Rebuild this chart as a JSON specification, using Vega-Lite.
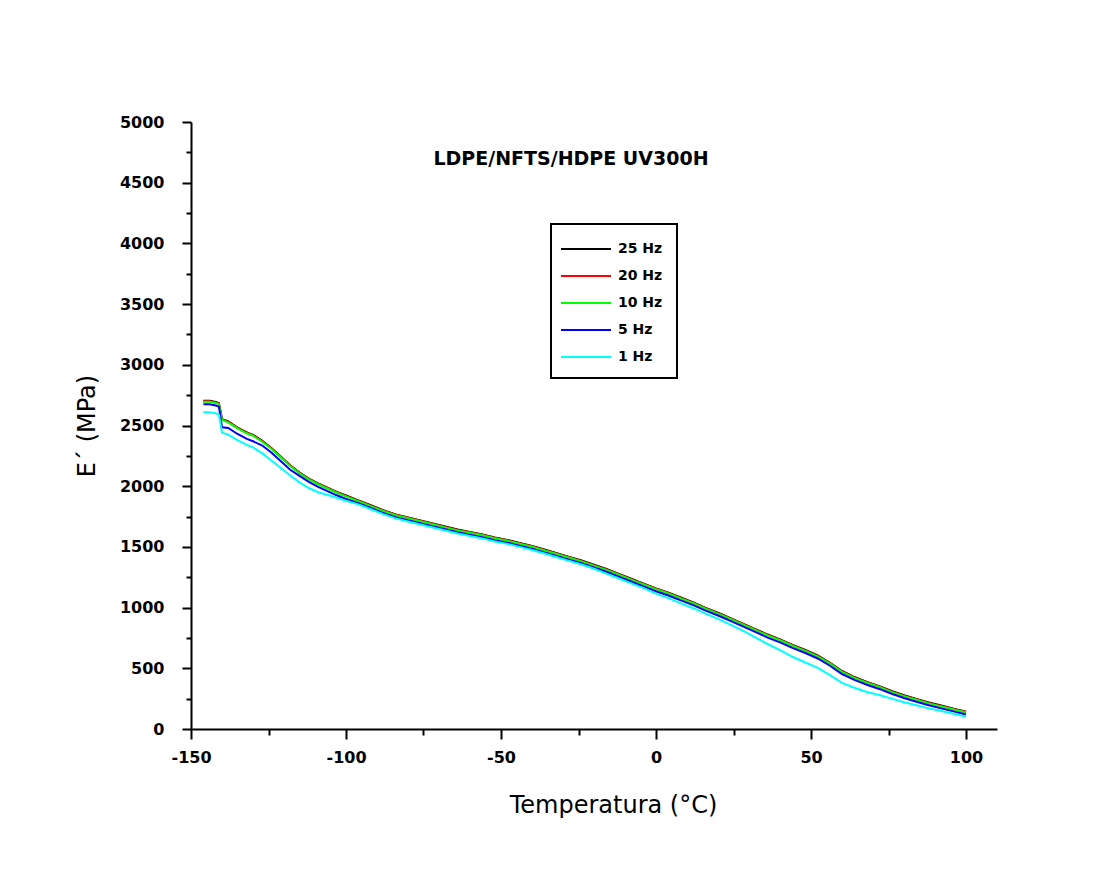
{
"$schema": "https://vega.github.io/schema/vega-lite/v6.json",
"width": 806, "height": 607,
"autosize": {"type": "none"},
"padding": {"left": 191, "top": 122, "right": 100, "bottom": 154},
"background": "white",
"title": {"text": "LDPE/NFTS/HDPE UV300H", "font": "DejaVu Sans", "fontSize": 19, "fontWeight": "bold", "color": "black", "anchor": "middle", "frame": "group", "offset": 0, "baseline": "top", "dy": 55, "dx": -23},
"data": {"values": [
{"T":-146,"E":2703,"freq":"25 Hz"},{"T":-144,"E":2703,"freq":"25 Hz"},{"T":-142,"E":2693,"freq":"25 Hz"},{"T":-141,"E":2683,"freq":"25 Hz"},{"T":-140,"E":2553,"freq":"25 Hz"},{"T":-138,"E":2533,"freq":"25 Hz"},{"T":-135,"E":2483,"freq":"25 Hz"},{"T":-132,"E":2443,"freq":"25 Hz"},{"T":-130,"E":2423,"freq":"25 Hz"},{"T":-127,"E":2373,"freq":"25 Hz"},{"T":-124,"E":2313,"freq":"25 Hz"},{"T":-121,"E":2243,"freq":"25 Hz"},{"T":-118,"E":2173,"freq":"25 Hz"},{"T":-115,"E":2113,"freq":"25 Hz"},{"T":-112,"E":2063,"freq":"25 Hz"},{"T":-109,"E":2023,"freq":"25 Hz"},{"T":-106,"E":1988,"freq":"25 Hz"},{"T":-103,"E":1953,"freq":"25 Hz"},{"T":-100,"E":1923,"freq":"25 Hz"},{"T":-96,"E":1883,"freq":"25 Hz"},{"T":-92,"E":1843,"freq":"25 Hz"},{"T":-88,"E":1803,"freq":"25 Hz"},{"T":-84,"E":1768,"freq":"25 Hz"},{"T":-80,"E":1743,"freq":"25 Hz"},{"T":-76,"E":1718,"freq":"25 Hz"},{"T":-72,"E":1693,"freq":"25 Hz"},{"T":-68,"E":1668,"freq":"25 Hz"},{"T":-64,"E":1643,"freq":"25 Hz"},{"T":-60,"E":1623,"freq":"25 Hz"},{"T":-56,"E":1603,"freq":"25 Hz"},{"T":-52,"E":1578,"freq":"25 Hz"},{"T":-48,"E":1558,"freq":"25 Hz"},{"T":-44,"E":1533,"freq":"25 Hz"},{"T":-40,"E":1508,"freq":"25 Hz"},{"T":-36,"E":1478,"freq":"25 Hz"},{"T":-32,"E":1448,"freq":"25 Hz"},{"T":-28,"E":1418,"freq":"25 Hz"},{"T":-24,"E":1388,"freq":"25 Hz"},{"T":-20,"E":1353,"freq":"25 Hz"},{"T":-16,"E":1318,"freq":"25 Hz"},{"T":-12,"E":1278,"freq":"25 Hz"},{"T":-8,"E":1238,"freq":"25 Hz"},{"T":-4,"E":1198,"freq":"25 Hz"},{"T":0,"E":1158,"freq":"25 Hz"},{"T":4,"E":1123,"freq":"25 Hz"},{"T":8,"E":1083,"freq":"25 Hz"},{"T":12,"E":1043,"freq":"25 Hz"},{"T":16,"E":998,"freq":"25 Hz"},{"T":20,"E":958,"freq":"25 Hz"},{"T":24,"E":913,"freq":"25 Hz"},{"T":28,"E":868,"freq":"25 Hz"},{"T":32,"E":823,"freq":"25 Hz"},{"T":36,"E":778,"freq":"25 Hz"},{"T":40,"E":738,"freq":"25 Hz"},{"T":44,"E":693,"freq":"25 Hz"},{"T":48,"E":653,"freq":"25 Hz"},{"T":52,"E":608,"freq":"25 Hz"},{"T":56,"E":548,"freq":"25 Hz"},{"T":60,"E":478,"freq":"25 Hz"},{"T":64,"E":428,"freq":"25 Hz"},{"T":68,"E":388,"freq":"25 Hz"},{"T":72,"E":353,"freq":"25 Hz"},{"T":76,"E":313,"freq":"25 Hz"},{"T":80,"E":278,"freq":"25 Hz"},{"T":84,"E":248,"freq":"25 Hz"},{"T":88,"E":218,"freq":"25 Hz"},{"T":92,"E":193,"freq":"25 Hz"},{"T":96,"E":168,"freq":"25 Hz"},{"T":100,"E":143,"freq":"25 Hz"},
{"T":-146,"E":2700,"freq":"20 Hz"},{"T":-144,"E":2700,"freq":"20 Hz"},{"T":-142,"E":2690,"freq":"20 Hz"},{"T":-141,"E":2680,"freq":"20 Hz"},{"T":-140,"E":2550,"freq":"20 Hz"},{"T":-138,"E":2530,"freq":"20 Hz"},{"T":-135,"E":2480,"freq":"20 Hz"},{"T":-132,"E":2440,"freq":"20 Hz"},{"T":-130,"E":2420,"freq":"20 Hz"},{"T":-127,"E":2370,"freq":"20 Hz"},{"T":-124,"E":2310,"freq":"20 Hz"},{"T":-121,"E":2240,"freq":"20 Hz"},{"T":-118,"E":2170,"freq":"20 Hz"},{"T":-115,"E":2110,"freq":"20 Hz"},{"T":-112,"E":2060,"freq":"20 Hz"},{"T":-109,"E":2020,"freq":"20 Hz"},{"T":-106,"E":1985,"freq":"20 Hz"},{"T":-103,"E":1950,"freq":"20 Hz"},{"T":-100,"E":1920,"freq":"20 Hz"},{"T":-96,"E":1880,"freq":"20 Hz"},{"T":-92,"E":1840,"freq":"20 Hz"},{"T":-88,"E":1800,"freq":"20 Hz"},{"T":-84,"E":1765,"freq":"20 Hz"},{"T":-80,"E":1740,"freq":"20 Hz"},{"T":-76,"E":1715,"freq":"20 Hz"},{"T":-72,"E":1690,"freq":"20 Hz"},{"T":-68,"E":1665,"freq":"20 Hz"},{"T":-64,"E":1640,"freq":"20 Hz"},{"T":-60,"E":1620,"freq":"20 Hz"},{"T":-56,"E":1600,"freq":"20 Hz"},{"T":-52,"E":1575,"freq":"20 Hz"},{"T":-48,"E":1555,"freq":"20 Hz"},{"T":-44,"E":1530,"freq":"20 Hz"},{"T":-40,"E":1505,"freq":"20 Hz"},{"T":-36,"E":1475,"freq":"20 Hz"},{"T":-32,"E":1445,"freq":"20 Hz"},{"T":-28,"E":1415,"freq":"20 Hz"},{"T":-24,"E":1385,"freq":"20 Hz"},{"T":-20,"E":1350,"freq":"20 Hz"},{"T":-16,"E":1315,"freq":"20 Hz"},{"T":-12,"E":1275,"freq":"20 Hz"},{"T":-8,"E":1235,"freq":"20 Hz"},{"T":-4,"E":1195,"freq":"20 Hz"},{"T":0,"E":1155,"freq":"20 Hz"},{"T":4,"E":1120,"freq":"20 Hz"},{"T":8,"E":1080,"freq":"20 Hz"},{"T":12,"E":1040,"freq":"20 Hz"},{"T":16,"E":995,"freq":"20 Hz"},{"T":20,"E":955,"freq":"20 Hz"},{"T":24,"E":910,"freq":"20 Hz"},{"T":28,"E":865,"freq":"20 Hz"},{"T":32,"E":820,"freq":"20 Hz"},{"T":36,"E":775,"freq":"20 Hz"},{"T":40,"E":735,"freq":"20 Hz"},{"T":44,"E":690,"freq":"20 Hz"},{"T":48,"E":650,"freq":"20 Hz"},{"T":52,"E":605,"freq":"20 Hz"},{"T":56,"E":545,"freq":"20 Hz"},{"T":60,"E":475,"freq":"20 Hz"},{"T":64,"E":425,"freq":"20 Hz"},{"T":68,"E":385,"freq":"20 Hz"},{"T":72,"E":350,"freq":"20 Hz"},{"T":76,"E":310,"freq":"20 Hz"},{"T":80,"E":275,"freq":"20 Hz"},{"T":84,"E":245,"freq":"20 Hz"},{"T":88,"E":215,"freq":"20 Hz"},{"T":92,"E":190,"freq":"20 Hz"},{"T":96,"E":165,"freq":"20 Hz"},{"T":100,"E":140,"freq":"20 Hz"},
{"T":-146,"E":2696,"freq":"10 Hz"},{"T":-144,"E":2696,"freq":"10 Hz"},{"T":-142,"E":2686,"freq":"10 Hz"},{"T":-141,"E":2676,"freq":"10 Hz"},{"T":-140,"E":2546,"freq":"10 Hz"},{"T":-138,"E":2526,"freq":"10 Hz"},{"T":-135,"E":2476,"freq":"10 Hz"},{"T":-132,"E":2436,"freq":"10 Hz"},{"T":-130,"E":2416,"freq":"10 Hz"},{"T":-127,"E":2366,"freq":"10 Hz"},{"T":-124,"E":2306,"freq":"10 Hz"},{"T":-121,"E":2236,"freq":"10 Hz"},{"T":-118,"E":2166,"freq":"10 Hz"},{"T":-115,"E":2106,"freq":"10 Hz"},{"T":-112,"E":2056,"freq":"10 Hz"},{"T":-109,"E":2016,"freq":"10 Hz"},{"T":-106,"E":1981,"freq":"10 Hz"},{"T":-103,"E":1946,"freq":"10 Hz"},{"T":-100,"E":1916,"freq":"10 Hz"},{"T":-96,"E":1876,"freq":"10 Hz"},{"T":-92,"E":1836,"freq":"10 Hz"},{"T":-88,"E":1796,"freq":"10 Hz"},{"T":-84,"E":1761,"freq":"10 Hz"},{"T":-80,"E":1736,"freq":"10 Hz"},{"T":-76,"E":1711,"freq":"10 Hz"},{"T":-72,"E":1686,"freq":"10 Hz"},{"T":-68,"E":1661,"freq":"10 Hz"},{"T":-64,"E":1636,"freq":"10 Hz"},{"T":-60,"E":1616,"freq":"10 Hz"},{"T":-56,"E":1596,"freq":"10 Hz"},{"T":-52,"E":1571,"freq":"10 Hz"},{"T":-48,"E":1551,"freq":"10 Hz"},{"T":-44,"E":1526,"freq":"10 Hz"},{"T":-40,"E":1501,"freq":"10 Hz"},{"T":-36,"E":1471,"freq":"10 Hz"},{"T":-32,"E":1441,"freq":"10 Hz"},{"T":-28,"E":1411,"freq":"10 Hz"},{"T":-24,"E":1381,"freq":"10 Hz"},{"T":-20,"E":1346,"freq":"10 Hz"},{"T":-16,"E":1311,"freq":"10 Hz"},{"T":-12,"E":1271,"freq":"10 Hz"},{"T":-8,"E":1231,"freq":"10 Hz"},{"T":-4,"E":1191,"freq":"10 Hz"},{"T":0,"E":1151,"freq":"10 Hz"},{"T":4,"E":1116,"freq":"10 Hz"},{"T":8,"E":1076,"freq":"10 Hz"},{"T":12,"E":1036,"freq":"10 Hz"},{"T":16,"E":991,"freq":"10 Hz"},{"T":20,"E":951,"freq":"10 Hz"},{"T":24,"E":906,"freq":"10 Hz"},{"T":28,"E":861,"freq":"10 Hz"},{"T":32,"E":816,"freq":"10 Hz"},{"T":36,"E":771,"freq":"10 Hz"},{"T":40,"E":731,"freq":"10 Hz"},{"T":44,"E":686,"freq":"10 Hz"},{"T":48,"E":646,"freq":"10 Hz"},{"T":52,"E":601,"freq":"10 Hz"},{"T":56,"E":541,"freq":"10 Hz"},{"T":60,"E":471,"freq":"10 Hz"},{"T":64,"E":421,"freq":"10 Hz"},{"T":68,"E":381,"freq":"10 Hz"},{"T":72,"E":346,"freq":"10 Hz"},{"T":76,"E":306,"freq":"10 Hz"},{"T":80,"E":271,"freq":"10 Hz"},{"T":84,"E":241,"freq":"10 Hz"},{"T":88,"E":211,"freq":"10 Hz"},{"T":92,"E":186,"freq":"10 Hz"},{"T":96,"E":161,"freq":"10 Hz"},{"T":100,"E":136,"freq":"10 Hz"},
{"T":-146,"E":2675,"freq":"5 Hz"},{"T":-144,"E":2675,"freq":"5 Hz"},{"T":-142,"E":2665,"freq":"5 Hz"},{"T":-141,"E":2655,"freq":"5 Hz"},{"T":-140,"E":2485,"freq":"5 Hz"},{"T":-138,"E":2480,"freq":"5 Hz"},{"T":-135,"E":2430,"freq":"5 Hz"},{"T":-132,"E":2390,"freq":"5 Hz"},{"T":-130,"E":2370,"freq":"5 Hz"},{"T":-127,"E":2335,"freq":"5 Hz"},{"T":-124,"E":2275,"freq":"5 Hz"},{"T":-121,"E":2205,"freq":"5 Hz"},{"T":-118,"E":2135,"freq":"5 Hz"},{"T":-115,"E":2085,"freq":"5 Hz"},{"T":-112,"E":2035,"freq":"5 Hz"},{"T":-109,"E":1995,"freq":"5 Hz"},{"T":-106,"E":1960,"freq":"5 Hz"},{"T":-103,"E":1925,"freq":"5 Hz"},{"T":-100,"E":1895,"freq":"5 Hz"},{"T":-96,"E":1860,"freq":"5 Hz"},{"T":-92,"E":1820,"freq":"5 Hz"},{"T":-88,"E":1780,"freq":"5 Hz"},{"T":-84,"E":1745,"freq":"5 Hz"},{"T":-80,"E":1720,"freq":"5 Hz"},{"T":-76,"E":1695,"freq":"5 Hz"},{"T":-72,"E":1670,"freq":"5 Hz"},{"T":-68,"E":1645,"freq":"5 Hz"},{"T":-64,"E":1620,"freq":"5 Hz"},{"T":-60,"E":1600,"freq":"5 Hz"},{"T":-56,"E":1580,"freq":"5 Hz"},{"T":-52,"E":1555,"freq":"5 Hz"},{"T":-48,"E":1535,"freq":"5 Hz"},{"T":-44,"E":1510,"freq":"5 Hz"},{"T":-40,"E":1485,"freq":"5 Hz"},{"T":-36,"E":1455,"freq":"5 Hz"},{"T":-32,"E":1425,"freq":"5 Hz"},{"T":-28,"E":1395,"freq":"5 Hz"},{"T":-24,"E":1365,"freq":"5 Hz"},{"T":-20,"E":1330,"freq":"5 Hz"},{"T":-16,"E":1295,"freq":"5 Hz"},{"T":-12,"E":1255,"freq":"5 Hz"},{"T":-8,"E":1215,"freq":"5 Hz"},{"T":-4,"E":1175,"freq":"5 Hz"},{"T":0,"E":1135,"freq":"5 Hz"},{"T":4,"E":1100,"freq":"5 Hz"},{"T":8,"E":1060,"freq":"5 Hz"},{"T":12,"E":1020,"freq":"5 Hz"},{"T":16,"E":975,"freq":"5 Hz"},{"T":20,"E":935,"freq":"5 Hz"},{"T":24,"E":890,"freq":"5 Hz"},{"T":28,"E":845,"freq":"5 Hz"},{"T":32,"E":800,"freq":"5 Hz"},{"T":36,"E":753,"freq":"5 Hz"},{"T":40,"E":713,"freq":"5 Hz"},{"T":44,"E":668,"freq":"5 Hz"},{"T":48,"E":628,"freq":"5 Hz"},{"T":52,"E":583,"freq":"5 Hz"},{"T":56,"E":523,"freq":"5 Hz"},{"T":60,"E":453,"freq":"5 Hz"},{"T":64,"E":405,"freq":"5 Hz"},{"T":68,"E":365,"freq":"5 Hz"},{"T":72,"E":330,"freq":"5 Hz"},{"T":76,"E":290,"freq":"5 Hz"},{"T":80,"E":255,"freq":"5 Hz"},{"T":84,"E":225,"freq":"5 Hz"},{"T":88,"E":195,"freq":"5 Hz"},{"T":92,"E":170,"freq":"5 Hz"},{"T":96,"E":145,"freq":"5 Hz"},{"T":100,"E":120,"freq":"5 Hz"},
{"T":-146,"E":2610,"freq":"1 Hz"},{"T":-144,"E":2610,"freq":"1 Hz"},{"T":-142,"E":2600,"freq":"1 Hz"},{"T":-141,"E":2590,"freq":"1 Hz"},{"T":-140,"E":2440,"freq":"1 Hz"},{"T":-138,"E":2425,"freq":"1 Hz"},{"T":-135,"E":2380,"freq":"1 Hz"},{"T":-132,"E":2340,"freq":"1 Hz"},{"T":-130,"E":2320,"freq":"1 Hz"},{"T":-127,"E":2270,"freq":"1 Hz"},{"T":-124,"E":2210,"freq":"1 Hz"},{"T":-121,"E":2150,"freq":"1 Hz"},{"T":-118,"E":2088,"freq":"1 Hz"},{"T":-115,"E":2032,"freq":"1 Hz"},{"T":-112,"E":1985,"freq":"1 Hz"},{"T":-109,"E":1950,"freq":"1 Hz"},{"T":-106,"E":1930,"freq":"1 Hz"},{"T":-103,"E":1905,"freq":"1 Hz"},{"T":-100,"E":1880,"freq":"1 Hz"},{"T":-96,"E":1850,"freq":"1 Hz"},{"T":-92,"E":1810,"freq":"1 Hz"},{"T":-88,"E":1770,"freq":"1 Hz"},{"T":-84,"E":1735,"freq":"1 Hz"},{"T":-80,"E":1710,"freq":"1 Hz"},{"T":-76,"E":1685,"freq":"1 Hz"},{"T":-72,"E":1660,"freq":"1 Hz"},{"T":-68,"E":1635,"freq":"1 Hz"},{"T":-64,"E":1610,"freq":"1 Hz"},{"T":-60,"E":1590,"freq":"1 Hz"},{"T":-56,"E":1570,"freq":"1 Hz"},{"T":-52,"E":1545,"freq":"1 Hz"},{"T":-48,"E":1525,"freq":"1 Hz"},{"T":-44,"E":1500,"freq":"1 Hz"},{"T":-40,"E":1475,"freq":"1 Hz"},{"T":-36,"E":1445,"freq":"1 Hz"},{"T":-32,"E":1415,"freq":"1 Hz"},{"T":-28,"E":1385,"freq":"1 Hz"},{"T":-24,"E":1355,"freq":"1 Hz"},{"T":-20,"E":1320,"freq":"1 Hz"},{"T":-16,"E":1280,"freq":"1 Hz"},{"T":-12,"E":1240,"freq":"1 Hz"},{"T":-8,"E":1200,"freq":"1 Hz"},{"T":-4,"E":1160,"freq":"1 Hz"},{"T":0,"E":1115,"freq":"1 Hz"},{"T":4,"E":1078,"freq":"1 Hz"},{"T":8,"E":1035,"freq":"1 Hz"},{"T":12,"E":995,"freq":"1 Hz"},{"T":16,"E":950,"freq":"1 Hz"},{"T":20,"E":907,"freq":"1 Hz"},{"T":24,"E":860,"freq":"1 Hz"},{"T":28,"E":810,"freq":"1 Hz"},{"T":32,"E":755,"freq":"1 Hz"},{"T":36,"E":700,"freq":"1 Hz"},{"T":40,"E":650,"freq":"1 Hz"},{"T":44,"E":595,"freq":"1 Hz"},{"T":48,"E":550,"freq":"1 Hz"},{"T":52,"E":505,"freq":"1 Hz"},{"T":56,"E":445,"freq":"1 Hz"},{"T":60,"E":380,"freq":"1 Hz"},{"T":64,"E":340,"freq":"1 Hz"},{"T":68,"E":305,"freq":"1 Hz"},{"T":72,"E":280,"freq":"1 Hz"},{"T":76,"E":250,"freq":"1 Hz"},{"T":80,"E":220,"freq":"1 Hz"},{"T":84,"E":195,"freq":"1 Hz"},{"T":88,"E":170,"freq":"1 Hz"},{"T":92,"E":148,"freq":"1 Hz"},{"T":96,"E":125,"freq":"1 Hz"},{"T":100,"E":100,"freq":"1 Hz"}
]},
"mark": {"type": "line", "strokeWidth": 2},
"encoding": {
  "x": {"field": "T", "type": "quantitative",
    "scale": {"domain": [-150, 110], "nice": false, "zero": false},
    "axis": {"values": [-150,-125,-100,-75,-50,-25,0,25,50,75,100],
      "labelExpr": "datum.value % 50 === 0 ? '' + datum.value : ''",
      "tickSize": {"condition": {"test": "datum.value % 50 === 0", "value": 10}, "value": 6},
      "labelPadding": 10, "title": "Temperatura (°C)", "titlePadding": 28, "titleX": 422}},
  "y": {"field": "E", "type": "quantitative",
    "scale": {"domain": [0, 5000], "nice": false},
    "axis": {"values": [0,250,500,750,1000,1250,1500,1750,2000,2250,2500,2750,3000,3250,3500,3750,4000,4250,4500,4750,5000],
      "labelExpr": "datum.value % 500 === 0 ? '' + datum.value : ''",
      "tickSize": {"condition": {"test": "datum.value % 500 === 0", "value": 9}, "value": 5},
      "labelPadding": 18, "title": "E´ (MPa)", "titlePadding": 20}},
  "color": {"field": "freq", "type": "nominal",
    "scale": {"domain": ["25 Hz", "20 Hz", "10 Hz", "5 Hz", "1 Hz"], "range": ["#000000", "#ff0000", "#00ff00", "#0000ff", "#00ffff"]},
    "legend": {"orient": "none", "legendX": 360, "legendY": 102, "title": null,
      "symbolType": "M-1.5,0H3.5", "symbolSize": 400, "symbolStrokeWidth": 2,
      "labelFont": "DejaVu Sans", "labelFontSize": 14, "labelFontWeight": "bold", "labelColor": "black",
      "labelOffset": 31, "rowPadding": 9, "padding": 14, "strokeColor": "black"}}
},
"config": {
  "view": {"stroke": null},
  "legend": {"strokeWidth": 2},
  "axis": {"grid": false, "domainColor": "black", "domainWidth": 2, "tickColor": "black", "tickWidth": 2,
    "labelFont": "DejaVu Sans", "labelFontSize": 16, "labelFontWeight": "bold", "labelColor": "black",
    "labelFlush": false, "labelOverlap": false,
    "titleFont": "DejaVu Sans", "titleFontSize": 24, "titleFontWeight": "normal", "titleColor": "black"}
}
}
